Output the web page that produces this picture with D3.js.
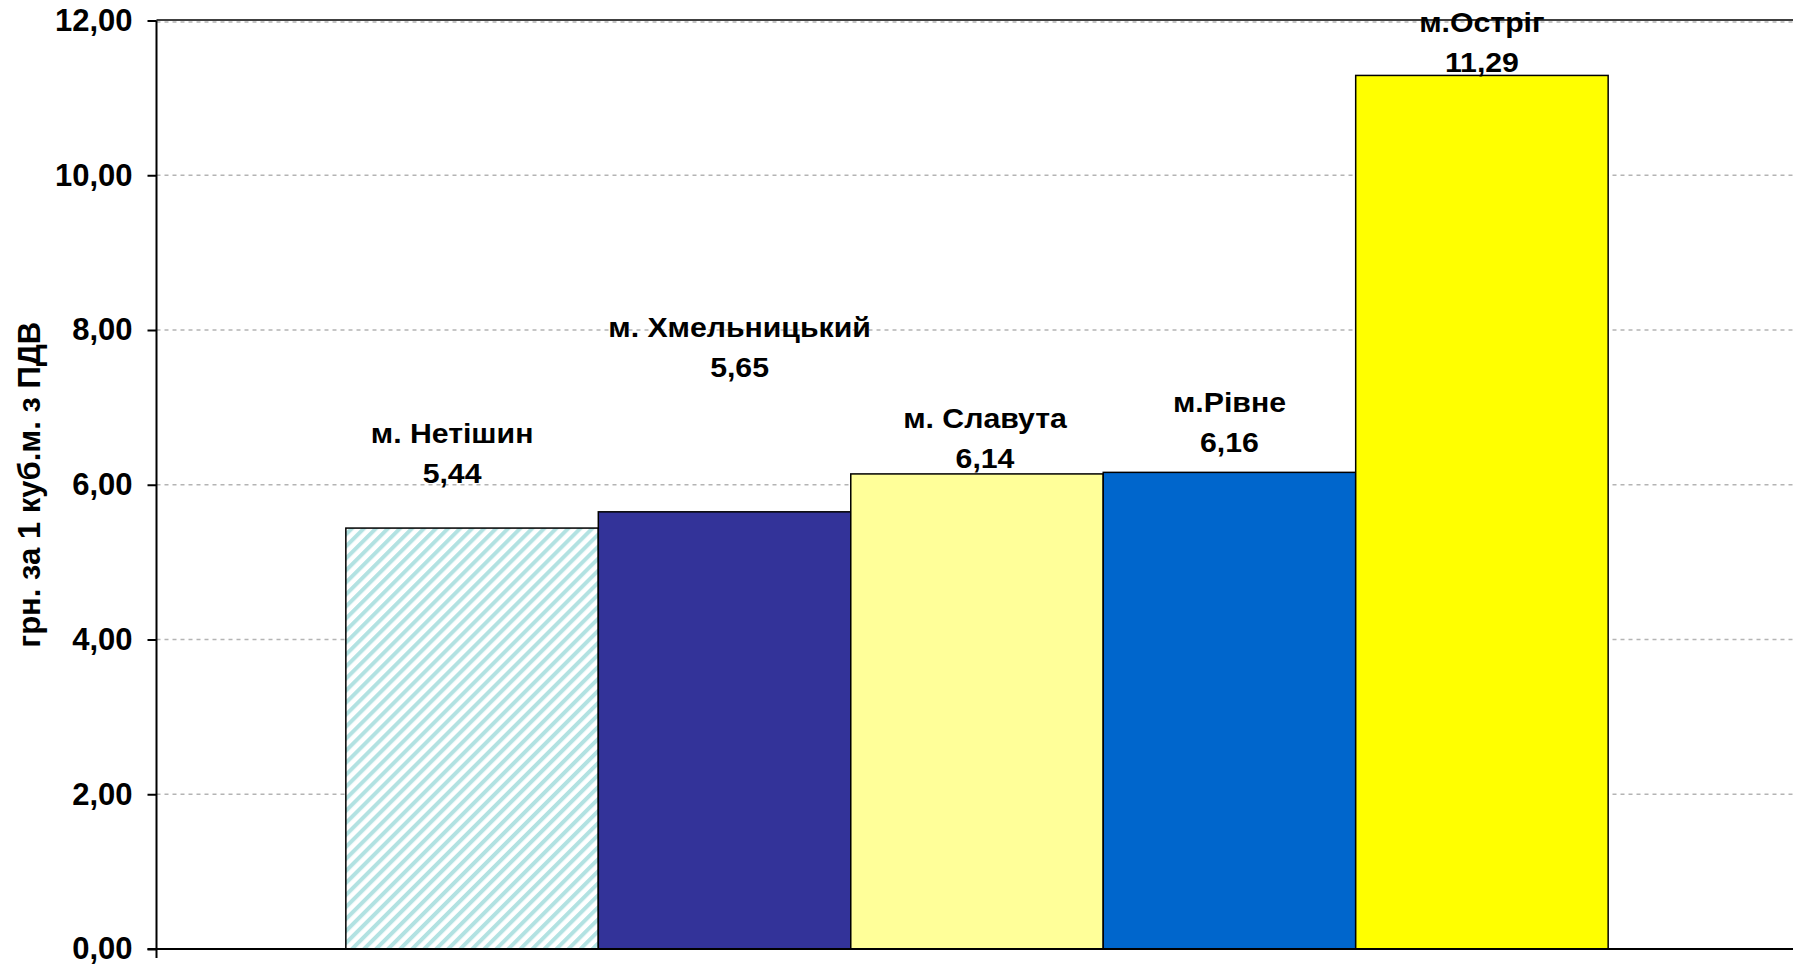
<!DOCTYPE html>
<html>
<head>
<meta charset="utf-8">
<script src="https://cdn.jsdelivr.net/npm/d3@7/dist/d3.min.js"></script>
<style>
  html, body { margin: 0; padding: 0; background: #ffffff; }
  svg { display: block; }
  text { font-family: "Liberation Sans", Arial, sans-serif; font-weight: bold; fill: #000; }
</style>
</head>
<body>
<svg id="chart" width="1793" height="966"></svg>
<script>
// ---- data ----
const categories = ["м. Нетішин", "м. Хмельницький", "м. Славута", "м.Рівне", "м.Остріг"];
const values = [5.44, 5.65, 6.14, 6.16, 11.29];
const yTicks = [0, 2, 4, 6, 8, 10, 12];
const yTitle = "грн. за 1 куб.м. з ПДВ";

// ---- style / layout ----
const fills = ["url(#hatch)", "#333399", "#FFFF99", "#0066CC", "#FFFF00"];
const labelDx = [-20, 15, 8, 0, 0];          // px, horizontal shift of the data label
const labelLift = [55, 145, 16.5, 30, 14];   // px, value-line centre above bar top
const lineGap = 40;                           // px between name line and value line

const plot = { left: 156.5, right: 1797.5, top: 20.5, bottom: 949 };

const svg = d3.select("#chart");
const defs = svg.append("defs");
const pat = defs.append("pattern")
  .attr("id", "hatch")
  .attr("patternUnits", "userSpaceOnUse")
  .attr("width", 8.5).attr("height", 8.5)
  .attr("patternTransform", "rotate(45)");
pat.append("rect").attr("width", 8.5).attr("height", 8.5).attr("fill", "#ffffff");
pat.append("rect").attr("x", 0).attr("y", 0).attr("width", 4).attr("height", 8.5).attr("fill", "#b2e2e2");

const locale = d3.formatLocale({ decimal: ",", thousands: " ", grouping: [3], currency: ["", ""] });
const fmt = locale.format(".2f");

const y = d3.scaleLinear().domain([0, 12]).range([plot.bottom, plot.top]);
const x = d3.scaleBand().domain(categories).range([plot.left, plot.right])
  .paddingInner(0).paddingOuter(0.75);

// gridlines
svg.append("g").selectAll("line")
  .data(yTicks.filter(t => t > 0))
  .join("line")
  .attr("x1", plot.left).attr("x2", plot.right)
  .attr("y1", d => y(d) + (d === 12 ? 1.5 : 0)).attr("y2", d => y(d) + (d === 12 ? 1.5 : 0))
  .attr("stroke", "#b4b4b4").attr("stroke-width", 1.5)
  .attr("stroke-dasharray", "4,4");

// top border line
svg.append("line")
  .attr("x1", plot.left).attr("x2", plot.right)
  .attr("y1", y(12) - 0.5).attr("y2", y(12) - 0.5)
  .attr("stroke", "#000").attr("stroke-width", 1.5);

// bars
svg.append("g").selectAll("rect")
  .data(categories)
  .join("rect")
  .attr("x", d => x(d))
  .attr("width", x.bandwidth())
  .attr("y", (d, i) => y(values[i]))
  .attr("height", (d, i) => y(0) - y(values[i]))
  .attr("fill", (d, i) => fills[i])
  .attr("stroke", "#000").attr("stroke-width", 1.5);

// y axis
const yAxis = d3.axisLeft(y).tickValues(yTicks).tickFormat(fmt).tickSize(9).tickPadding(15);
const ga = svg.append("g").attr("transform", `translate(${plot.left},0)`).call(yAxis);
ga.select(".domain").remove();
ga.selectAll(".tick line").attr("stroke", "#000").attr("stroke-width", 2);
ga.selectAll(".tick text")
  .attr("font-size", 31)
  .attr("font-family", "'Liberation Sans', Arial, sans-serif")
  .attr("font-weight", "bold")
  .attr("fill", "#000")
  .attr("dy", "0.32em");

// axis lines
svg.append("line")
  .attr("x1", plot.left).attr("x2", plot.left)
  .attr("y1", plot.top).attr("y2", plot.bottom + 9)
  .attr("stroke", "#000").attr("stroke-width", 2);
svg.append("line")
  .attr("x1", plot.left - 9).attr("x2", plot.right)
  .attr("y1", plot.bottom).attr("y2", plot.bottom)
  .attr("stroke", "#000").attr("stroke-width", 2);

// y title
svg.append("text")
  .attr("transform", `translate(40,${(plot.top + plot.bottom) / 2}) rotate(-90)`)
  .attr("text-anchor", "middle")
  .attr("font-size", 31)
  .text(yTitle);

// data labels
const lg = svg.append("g");
categories.forEach((c, i) => {
  const cx = x(c) + x.bandwidth() / 2 + labelDx[i];
  const vy = y(values[i]) - labelLift[i];
  const ny = vy - lineGap;
  lg.append("text")
    .attr("transform", `translate(${cx},${ny}) scale(1.08,1)`)
    .attr("text-anchor", "middle")
    .attr("dy", "0.36em")
    .attr("font-size", 28)
    .text(c);
  lg.append("text")
    .attr("transform", `translate(${cx},${vy}) scale(1.08,1)`)
    .attr("text-anchor", "middle")
    .attr("dy", "0.36em")
    .attr("font-size", 28)
    .text(fmt(values[i]));
});
</script>
</body>
</html>
